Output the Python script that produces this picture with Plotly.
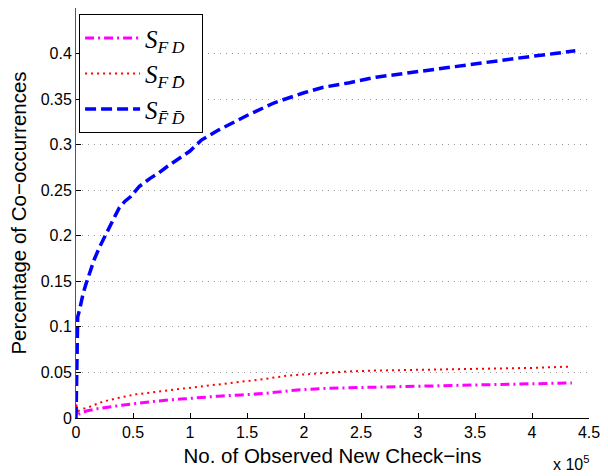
import plotly.graph_objects as go

# x values in units of 1e5 check-ins
x_fd = [0, 0.005, 0.035, 0.1, 0.18, 0.29, 0.4, 0.525, 0.65, 0.81, 0.95, 1.1, 1.25, 1.45, 1.66, 1.94, 2.2, 2.57, 2.9, 3.24, 3.5, 3.82, 4.1, 4.35]
y_fd = [0.015, 0.003, 0.005, 0.008, 0.010, 0.0124, 0.014, 0.016, 0.0178, 0.0198, 0.021, 0.0227, 0.024, 0.0253, 0.027, 0.0308, 0.0325, 0.0337, 0.0345, 0.0352, 0.0358, 0.0366, 0.0375, 0.0385]

x_fdb = [0, 0.005, 0.02, 0.06, 0.12, 0.236, 0.38, 0.525, 0.785, 1.01, 1.22, 1.45, 1.66, 1.85, 2.1, 2.37, 2.6, 2.98, 3.3, 3.64, 4.0, 4.35]
y_fdb = [0.014, 0.01, 0.0077, 0.01, 0.0124, 0.018, 0.0223, 0.026, 0.030, 0.0333, 0.0363, 0.040, 0.0429, 0.0465, 0.049, 0.051, 0.052, 0.0528, 0.0535, 0.054, 0.055, 0.0565]

x_fbdb = [0, 0.002, 0.005, 0.008, 0.012, 0.015, 0.03, 0.063, 0.09, 0.121, 0.16, 0.208, 0.25, 0.294, 0.34, 0.381, 0.43, 0.48, 0.554, 0.65, 0.727, 0.8, 0.9, 1.0, 1.05, 1.1, 1.25, 1.5, 1.74, 1.85, 2.0, 2.17, 2.4, 2.63, 2.86, 3.0, 3.25, 3.5, 3.75, 4.0, 4.2, 4.38]
y_fbdb = [0, 0.03, 0.06, 0.09, 0.105, 0.111, 0.118, 0.137, 0.148, 0.159, 0.174, 0.188, 0.199, 0.210, 0.221, 0.231, 0.238, 0.243, 0.254, 0.263, 0.269, 0.276, 0.284, 0.293, 0.299, 0.305, 0.316, 0.332, 0.346, 0.351, 0.357, 0.363, 0.368, 0.374, 0.378, 0.380, 0.384, 0.389, 0.393, 0.397, 0.400, 0.403]

x_ticks = [0, 0.5, 1, 1.5, 2, 2.5, 3, 3.5, 4, 4.5]
x_ticklabels = ["0", "0.5", "1", "1.5", "2", "2.5", "3", "3.5", "4", "4.5"]
y_ticks = [0, 0.05, 0.1, 0.15, 0.2, 0.25, 0.3, 0.35, 0.4, 0.45]
y_ticklabels = ["0", "0.05", "0.1", "0.15", "0.2", "0.25", "0.3", "0.35", "0.4", "0.45"]

names = [
    "<i>S</i><sub><i>F\u2009D</i></sub>\u2002",
    "<i>S</i><sub><i>F\u2009D\u0304</i></sub>\u2002",
    "<i>S</i><sub><i>F\u0304\u2009D\u0304</i></sub>\u2002",
]

fig = go.Figure()
fig.add_trace(go.Scatter(x=x_fd, y=y_fd, mode="lines", name=names[0], legendgroup="a",
                         line=dict(color="#ff00ff", width=3, dash="9px,4px,2px,4px")))
fig.add_trace(go.Scatter(x=x_fdb, y=y_fdb, mode="lines", name=names[1], legendgroup="b",
                         line=dict(color="#ff0000", width=2, dash="2px,4px")))
fig.add_trace(go.Scatter(x=x_fbdb, y=y_fbdb, mode="lines", name=names[2], legendgroup="c",
                         line=dict(color="#0000ff", width=3.5, dash="11px,5px")))

fig.update_layout(
    width=608, height=476,
    margin=dict(l=76, r=12, t=8, b=58),
    paper_bgcolor="white", plot_bgcolor="white",
    font=dict(family="Liberation Sans, Arial, sans-serif", size=16, color="black"),
    showlegend=True,
    legend=dict(x=0.006, y=0.985, xanchor="left", yanchor="top",
                bgcolor="white", bordercolor="black", borderwidth=1,
                font=dict(family="Liberation Serif, Times New Roman, serif", size=25),
                tracegroupgap=0, itemwidth=55),
    xaxis=dict(range=[0, 4.5], tickmode="array", tickvals=x_ticks, ticktext=x_ticklabels,
               showgrid=False, zeroline=False, showline=True, linecolor="black", linewidth=1,
               ticks="inside", ticklen=5, tickcolor="black",
               title=dict(text="No. of Observed New Check\u2212ins", font=dict(size=20.5), standoff=8)),
    yaxis=dict(range=[0, 0.45], tickmode="array", tickvals=y_ticks, ticktext=y_ticklabels,
               showgrid=True, gridcolor="#999999", gridwidth=1, griddash="1px,5px",
               zeroline=False, showline=True, linecolor="#555555", linewidth=1,
               ticks="inside", ticklen=5, tickcolor="black",
               title=dict(text="Percentage of Co\u2212occurrences", font=dict(size=20.5), standoff=8)),
    annotations=[dict(text="x 10<sup>5</sup>", xref="paper", yref="paper", x=1.004, y=-0.08,
                      xanchor="right", yanchor="top", showarrow=False, font=dict(size=16))],
)

fig.write_html("out.html")
